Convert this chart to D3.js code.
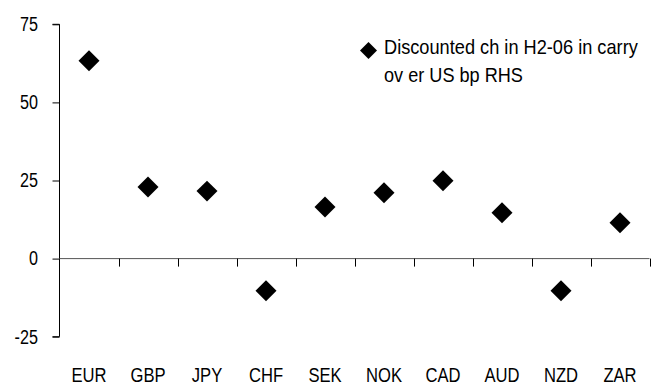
<!DOCTYPE html>
<html><head><meta charset="utf-8">
<script src="https://cdn.jsdelivr.net/npm/d3@7"></script>
<style>
body{margin:0;background:#fff;}
text{font-family:"Liberation Sans",Arial,sans-serif;fill:#000;}
</style></head>
<body><svg id="c" width="655" height="386"></svg>
<script>
const categories = ["EUR","GBP","JPY","CHF","SEK","NOK","CAD","AUD","NZD","ZAR"];
const values = [63.3, 22.9, 21.6, -10.3, 16.5, 21.1, 24.9, 14.7, -10.3, 11.5];
const yTicks = [-25, 0, 25, 50, 75];
const legendLines = ["Discounted ch in H2-06 in carry", "ov er US bp RHS"];

const SX = 0.83;
const svg = d3.select("#c");
const x = d3.scaleBand().domain(categories).range([59.5, 649.5]);
const y = d3.scaleLinear().domain([-25, 75]).range([336.7, 24.3]);

// y axis
const ya = svg.append("g").attr("transform","translate(59.5,0)")
  .call(d3.axisLeft(y).tickValues(yTicks).tickSize(7).tickFormat(""));
ya.select(".domain").attr("stroke","#000").attr("d", `M-7,${y(75)}H0V${y(-25)}H-7`);
ya.selectAll(".tick line").attr("stroke","#000");

svg.append("g").selectAll("text").data(yTicks).join("text")
  .attr("transform", d => `translate(38,${y(d)}) scale(${SX},1)`)
  .attr("dy","0.35em").attr("text-anchor","end").style("font-size","19.5px")
  .text(d => String(d));

// zero line with category ticks
const xa = svg.append("g").attr("transform",`translate(0,${y(0)})`)
  .call(d3.axisBottom(x).tickSize(0).tickFormat(""));
xa.select(".domain").attr("stroke","#555").attr("d", `M59.5,0H649.5`);
const bounds = categories.map(c => x(c) + x.bandwidth());
svg.append("g").selectAll("line").data(bounds).join("line")
  .attr("x1", d => Math.round(d)+0.5).attr("x2", d => Math.round(d)+0.5)
  .attr("y1", y(0)).attr("y2", y(0)+8).attr("stroke","#000");

// category labels
svg.append("g").selectAll("text").data(categories).join("text")
  .attr("transform", d => `translate(${x(d) + x.bandwidth()/2},382) scale(${SX},1)`)
  .attr("text-anchor","middle").style("font-size","20px").text(d => d);

// diamonds
const diamond = d3.symbol().type(d3.symbolSquare).size(220);
svg.append("g").selectAll("path").data(values).join("path")
  .attr("d", diamond)
  .attr("transform", (d,i) => `translate(${x(categories[i]) + x.bandwidth()/2},${y(d)}) rotate(45)`)
  .attr("fill","#000");

// legend
svg.append("path").attr("d", d3.symbol().type(d3.symbolSquare).size(144))
  .attr("transform","translate(368.5,50.5) rotate(45)").attr("fill","#000");
const legendWidths = [254, 139];
svg.append("g").selectAll("text").data(legendLines).join("text")
  .style("font-size","20px")
  .text(d => d)
  .each(function(d,i){
    const w = this.getComputedTextLength() || 1;
    const s = Math.min(1, legendWidths[i] / w);
    d3.select(this).attr("transform", `translate(384,${54.3 + i*27.5}) scale(${s},1)`);
  });
</script></body></html>
